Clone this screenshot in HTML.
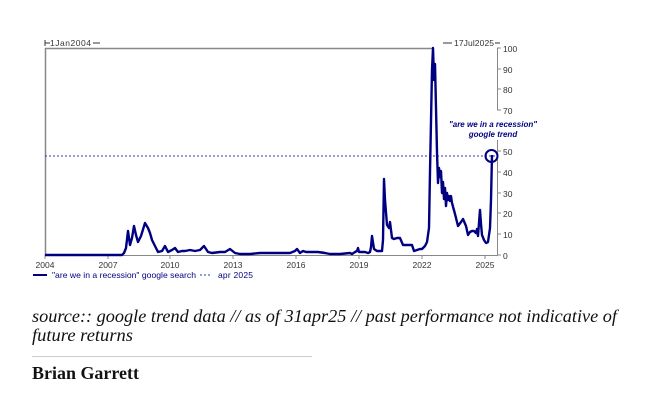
<!DOCTYPE html>
<html><head><style>
html,body{margin:0;padding:0;background:#fff;}
svg{display:block;}
</style></head><body>
<svg width="648" height="403" xmlns="http://www.w3.org/2000/svg" font-family="'Liberation Sans', sans-serif">
<rect width="648" height="403" fill="#fff"/>
<line x1="45" y1="48.5" x2="433" y2="48.5" stroke="#888" stroke-width="1.5"/>
<line x1="45.5" y1="48" x2="45.5" y2="255" stroke="#888" stroke-width="1.5"/>
<line x1="45" y1="255.5" x2="497" y2="255.5" stroke="#888" stroke-width="1"/>
<line x1="497.5" y1="48" x2="497.5" y2="110" stroke="#888" stroke-width="1"/>
<line x1="497.5" y1="140" x2="497.5" y2="256" stroke="#888" stroke-width="1"/>
<g stroke="#888" stroke-width="1">
<line x1="497" y1="48" x2="501" y2="48"/><line x1="497" y1="69" x2="501" y2="69"/><line x1="497" y1="89" x2="501" y2="89"/><line x1="497" y1="110" x2="501" y2="110"/>
<line x1="497" y1="151" x2="501" y2="151"/><line x1="497" y1="172" x2="501" y2="172"/><line x1="497" y1="193" x2="501" y2="193"/><line x1="497" y1="213" x2="501" y2="213"/><line x1="497" y1="234" x2="501" y2="234"/><line x1="497" y1="255" x2="501" y2="255"/>
<line x1="45" y1="255" x2="45" y2="259"/><line x1="108" y1="255" x2="108" y2="259"/><line x1="170" y1="255" x2="170" y2="259"/><line x1="233" y1="255" x2="233" y2="259"/><line x1="296" y1="255" x2="296" y2="259"/><line x1="359" y1="255" x2="359" y2="259"/><line x1="422" y1="255" x2="422" y2="259"/><line x1="485" y1="255" x2="485" y2="259"/>
</g>
<g font-size="8.5" fill="#333">
<text x="503" y="52">100</text><text x="503" y="73">90</text><text x="503" y="93">80</text><text x="503" y="114">70</text>
<text x="503" y="155">50</text><text x="503" y="176">40</text><text x="503" y="197">30</text><text x="503" y="217">20</text><text x="503" y="238">10</text><text x="503" y="259">0</text>
<g text-anchor="middle"><text x="45" y="268">2004</text><text x="108" y="268">2007</text><text x="170" y="268">2010</text><text x="233" y="268">2013</text><text x="296" y="268">2016</text><text x="359" y="268">2019</text><text x="422" y="268">2022</text><text x="485" y="268">2025</text></g>
<text x="50" y="46" textLength="41">1Jan2004</text>
<text x="454" y="46" textLength="40">17Jul2025</text>
</g>
<line x1="45" y1="40" x2="45" y2="46" stroke="#333"/><line x1="45" y1="43" x2="50" y2="43" stroke="#333"/><line x1="93" y1="43" x2="100" y2="43" stroke="#333"/>
<line x1="443" y1="43" x2="452" y2="43" stroke="#333"/><line x1="495" y1="43" x2="500" y2="43" stroke="#333"/>
<line x1="45" y1="156" x2="497" y2="156" stroke="#3333bb" stroke-width="1" stroke-dasharray="2,2"/>
<polyline fill="none" stroke="#000080" stroke-width="2.4" stroke-linejoin="round" points="
45,255 122,255 124,253 126,248 128,231 130,245 132,238 134,226 136,235 138,242 141,236 145,223 148,228 150,233 152,240 155,246 158,252 162,251 165,246 168,252 172,250 175,248 178,252 182,251 185,251 190,250 195,251 200,250 204,246 208,252 212,253 220,252 225,252 230,249 235,253 240,254 250,254 260,253 270,253 280,253 290,253 295,251 297,249 300,253 303,251 306,252 310,252 318,252 325,253 330,254 340,254 350,253 352,254 355,252 357,251 358,248 359,252 362,252 365,252 368,253 370,252 371,247 372,236 374,249 377,251 380,251 382,251 383,240 384,179 385,200 387,225 389,228 390,222 392,238 394,239 397,238 400,238 403,245 407,245 412,245 414,251 417,250 420,249 422,249 425,246 427,242 429,228 430,172 432,70 433,48 434,80 435,64 437,152 438,183 439,168 440,177 441,171 442,193 443,182 444,199 445,188 446,206 447,193 448,200 449,196 450,201 451,196 452,203 455,214 458,226 461,222 463,219 466,226 468,235 470,232 472,231 474,231 476,233 477,229 478,236 480,210 481,224 482,235 484,240 486,243 488,242 490,228 491,200 492,155"/>
<circle cx="491.5" cy="156" r="6" fill="none" stroke="#000080" stroke-width="2"/>
<text x="493" y="127" font-size="8" font-style="italic" font-weight="bold" fill="#000080" text-anchor="middle">"are we in a recession"</text>
<text x="493" y="137" font-size="8" font-style="italic" font-weight="bold" fill="#000080" text-anchor="middle">google trend</text>
<line x1="33" y1="275" x2="47" y2="275" stroke="#000080" stroke-width="2"/>
<text x="52" y="278" font-size="8.5" fill="#000080" textLength="144" lengthAdjust="spacingAndGlyphs">"are we in a recession" google search</text>
<line x1="200" y1="275" x2="212" y2="275" stroke="#3333bb" stroke-dasharray="2,2"/>
<text x="218" y="278" font-size="8.5" fill="#000080" textLength="35">apr 2025</text>
<g font-family="'Liberation Serif', serif" fill="#111">
<text x="32" y="322" font-size="18" font-style="italic" textLength="585" lengthAdjust="spacingAndGlyphs">source:: google trend data // as of 31apr25 // past performance not indicative of</text>
<text x="32" y="341" font-size="18" font-style="italic" textLength="101" lengthAdjust="spacingAndGlyphs">future returns</text>
<line x1="32" y1="356.5" x2="312" y2="356.5" stroke="#ccc" stroke-width="1"/>
<text x="32" y="379" font-size="18" font-weight="bold" textLength="107" lengthAdjust="spacingAndGlyphs">Brian Garrett</text>
</g>
</svg>
</body></html>
